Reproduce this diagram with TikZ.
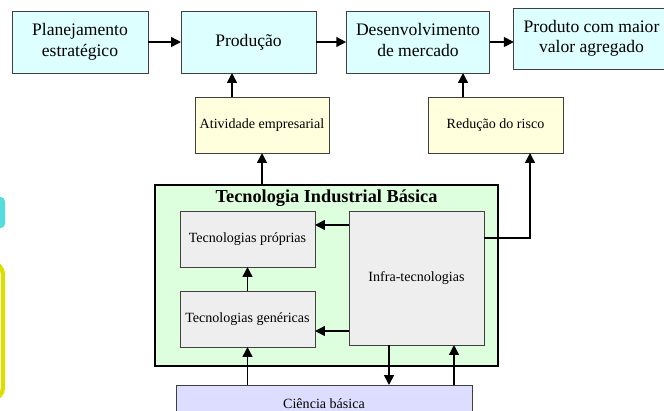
\documentclass[tikz,border=0pt]{standalone}
\usepackage{fontspec}
\setmainfont{Liberation Serif}
\usetikzlibrary{arrows,positioning,calc}
\usetikzlibrary{arrows.meta}
\definecolor{topColor}{HTML}{DDFFFF}
\definecolor{midColor}{HTML}{FFFFDD}
\definecolor{tibColor}{HTML}{DDFFDD}
\definecolor{techColor}{HTML}{EEEEEE}
\definecolor{sciColor}{HTML}{DDDDFF}
\definecolor{boxLine}{HTML}{404040}
\definecolor{sideYellow}{HTML}{DDDD00}
\definecolor{sideCyan}{HTML}{55DDDD}
\tikzset{
	box/.style={draw=boxLine, line width=0.6pt, outer sep=0, inner sep=1pt, align=center},
	topbox/.style={box, fill=topColor, minimum height=1.55cm, font=\fontsize{12.5}{14.5}\selectfont},
	midbox/.style={box, fill=midColor, minimum width=3.35cm, minimum height=1.4cm, font=\fontsize{10}{12}\selectfont},
	techbox/.style={box, fill=techColor, minimum width=3.375cm, font=\fontsize{10}{12}\selectfont}
}
\begin{document}
\begin{tikzpicture}[x=0.025cm, y=-0.025cm, ->, >={Triangle[length=7pt,width=7pt]},
	line width=1.1pt]
	\clip (0,0) rectangle (664,410);
	% cut pieces at the left border
	\fill[sideCyan, rounded corners=3] (-30,197) rectangle (5,228);
	\draw[-, sideYellow, line width=3pt, rounded corners=8] (-80,263) rectangle (3,399);
	
	\node[topbox, minimum width=3.4cm] (plan) at (80,42) {\begin{tabular}{c}
			Planejamento\\ estratégico
	\end{tabular}};
	\node[topbox, minimum width=3.375cm] (prod) at (248.5,42) {Produção};
	\node[topbox, minimum width=3.4cm] (desenv) at (418,42) {\begin{tabular}{c}
			Desenvolvimento\\ de mercado
	\end{tabular}};
	\node[topbox, minimum width=3.575cm, minimum height=1.525cm] (produto) at (591.5,38.5) {\begin{tabular}{c}
			Produto com maior\\ valor agregado
	\end{tabular}};
	
	\node[midbox] (ativ) at (262,125) {Atividade empresarial};
	\node[midbox, minimum width=3.375cm] (risco) at (495.5,125) {Redução do risco};
	
	\node[box, fill=tibColor, draw=black, line width=1.3pt, minimum width=8.575cm, minimum height=4.525cm] (tib) at (326.5,275.5) {};
	\node[font=\fontsize{13}{15}\selectfont\bfseries, inner sep=0] (tibtitle) at (326.5,198) {Tecnologia Industrial Básica};
	\node[techbox, minimum height=1.4cm] (proprias) at (247.5,239) {Tecnologias próprias};
	\node[techbox, minimum height=1.4cm] (genericas) at (247.5,319) {Tecnologias genéricas};
	\node[techbox, minimum height=3.35cm] (infra) at (416.5,278) {Infra-tecnologias};
	
	\node[box, fill=sciColor, minimum width=7.4cm, minimum height=0.95cm] (ciencia) at (324,404) {\fontsize{10}{12}\selectfont Ciência básica};
	
	% where the side arrows leave the boxes
	\coordinate (ativx) at ($(ativ.north)+(-30,0)$);
	\coordinate (riscox) at ($(risco.north)+(-32.5,0)$);
	\coordinate (infraA) at ($(infra.north west)+(0,14)$);
	\coordinate (infraB) at ($(infra.south west)+(0,-14)$);
	\coordinate (infraC) at ($(infra.north east)+(0,27)$);
	\coordinate (riscoy) at ($(risco.south)+(34.5,0)$);
	\coordinate (infraD) at ($(infra.south)+(-27.5,0)$);
	\coordinate (infraE) at ($(infra.south)+(37.5,0)$);
	
	% top row
	\draw (plan.east) -- (prod.west);
	\draw (prod.east) -- (desenv.west);
	\draw (desenv.east) -- (desenv.east -| produto.west);
	\draw (ativx) -- (ativx |- prod.south);
	\draw (riscox) -- (riscox |- desenv.south);
	\draw (ativ.south |- tib.north) -- (ativ.south);
	
	% inside the box
	\draw (genericas) -- (proprias);
	\draw (infraA) -- (infraA -| proprias.east);
	\draw (infraB) -- (infraB -| genericas.east);
	\draw (infraC) -| (riscoy);
	
	% from and to the bottom
	\draw (genericas.south |- ciencia.north) -- (genericas.south);
	\draw (infraD) -- (infraD |- ciencia.north);
	\draw (infraE |- ciencia.north) -- (infraE);
\end{tikzpicture}
\end{document}
